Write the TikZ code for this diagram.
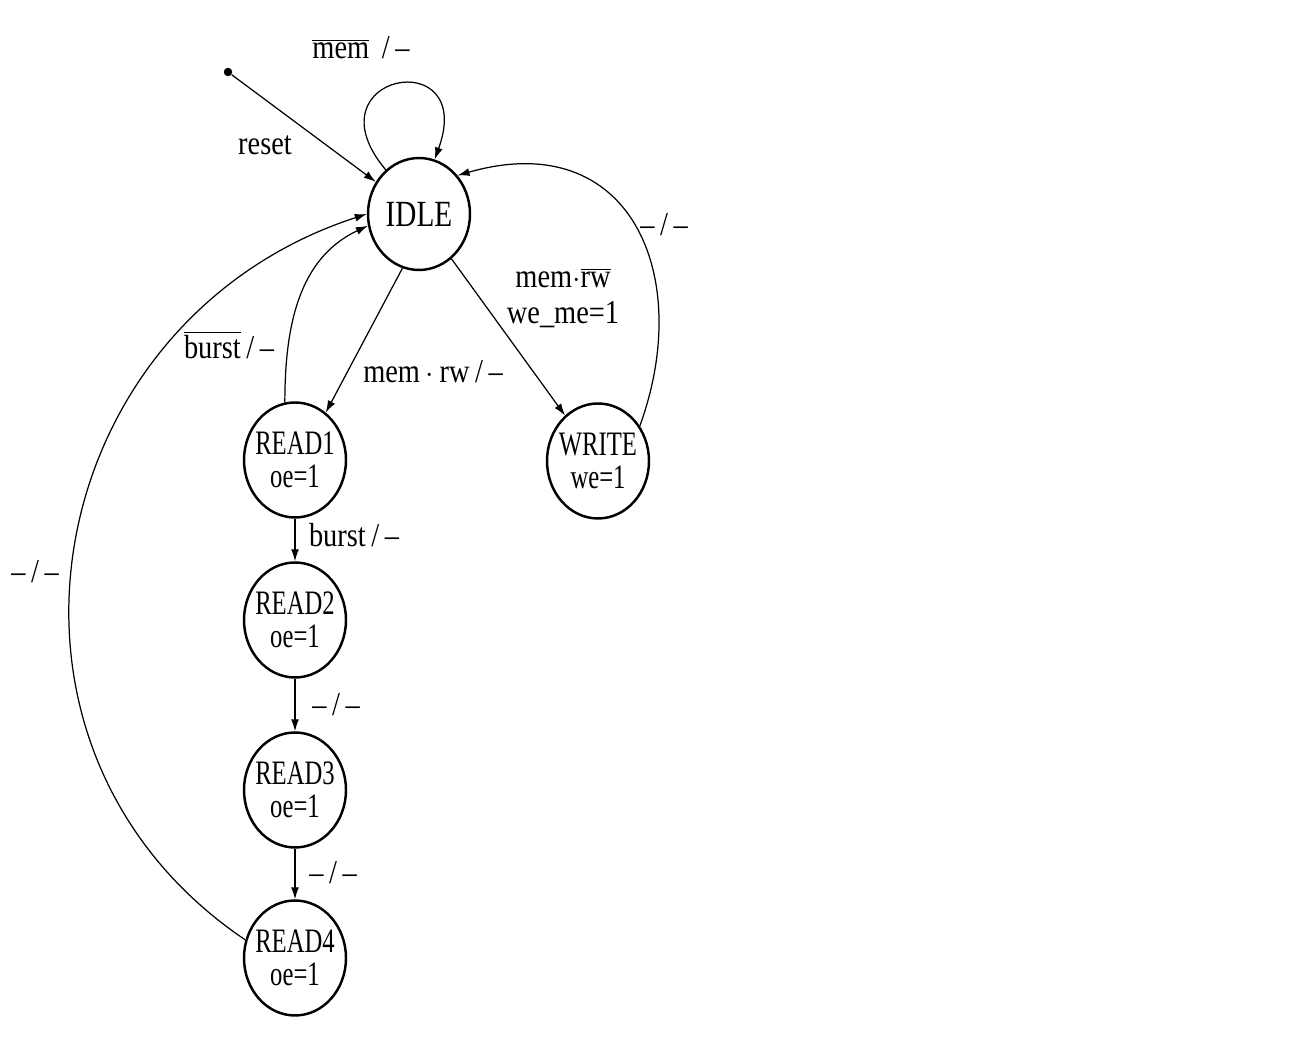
\documentclass[tikz,border=0pt]{standalone}
\usepackage{fontspec}
\setmainfont{Liberation Serif}[FakeStretch=0.85]
\newfontfamily\statefont{Liberation Serif}[FakeStretch=0.72]
\usetikzlibrary{arrows.meta,shapes.geometric}

\tikzset{
    state/.style={ellipse, draw, line width=1.4pt, minimum width=2.04cm, minimum height=2.3cm, inner sep=0pt},
    stext/.style={align=center, inner sep=0pt, font=\statefont\fontsize{19.5}{19}\selectfont},
    trans/.style={-{Latex[length=2.4mm,width=1.6mm]}, line width=0.7pt},
    lbl/.style={align=center, inner sep=1pt, font=\fontsize{19}{20}\selectfont},
    dot/.style={circle, fill, inner sep=0pt, minimum size=0.17cm}
}

\begin{document}
\begin{tikzpicture}[x=0.02cm,y=0.02cm]
    \useasboundingbox (0,0) rectangle (1302,1051);

    % Draw states
    \node[state, minimum height=2.24cm, label={[stext, font=\statefont\fontsize{21}{21}\selectfont, xscale=1.1]center:IDLE}] (idle) at (419,837) {};
    \node[state, label={[stext]center:READ1\\oe=1}] (read1) at (295,591) {};
    \node[state, label={[stext]center:READ2\\oe=1}] (read2) at (295,431) {};
    \node[state, label={[stext]center:READ3\\oe=1}] (read3) at (295,261) {};
    \node[state, label={[stext]center:READ4\\oe=1}] (read4) at (295,93) {};
    \node[state, label={[stext]center:WRITE\\we=1}] (write) at (598,590) {};

    % Reset
    \node[dot] (rst) at (228,979) {};
    \draw[trans] (rst) -- (idle);

    % Draw transitions
    \draw[trans] (idle.127) .. controls +(130:125) and +(70:125) .. (idle.74);
    \draw[trans] (idle.253) -- (read1.57);
    \draw[trans] (idle) -- (write);
    \draw[trans] (write.40) .. controls +(70:160) and +(16:180) .. (idle.45);
    \draw[trans] (read1.100) to[out=90,in=205] (idle.193);
    \draw[trans] (read1) -- (read2);
    \draw[trans] (read2) -- (read3);
    \draw[trans] (read3) -- (read4);
    \draw[trans] (read4.160) to[out=146,in=198,looseness=1.2] (idle.180);

    % Labels for transitions
    \node[lbl] (lreset) at (265,906) {reset};
    \node[lbl] (lmem) at (361,1003) {$\overline{\mbox{mem}}$\ \,/\,--};
    \node[lbl] (lwi) at (664,826) {--\,/\,--};
    \node[lbl] (liw) at (563,753) {mem$\cdot\overline{\mbox{rw}}$\\we\_me=1};
    \node[lbl] (lir) at (433,679) {mem\,$\cdot$\,rw\,/\,--};
    \node[lbl] (lrb) at (229,706) {$\overline{\mbox{burst}}$\,/\,--};
    \node[lbl] (lri) at (35,479) {--\,/\,--};
    \node[lbl] (lb) at (354,516) {burst\,/\,--};
    \node[lbl] (l23) at (336,346) {--\,/\,--};
    \node[lbl] (l34) at (333,178) {--\,/\,--};
\end{tikzpicture}
\end{document}
